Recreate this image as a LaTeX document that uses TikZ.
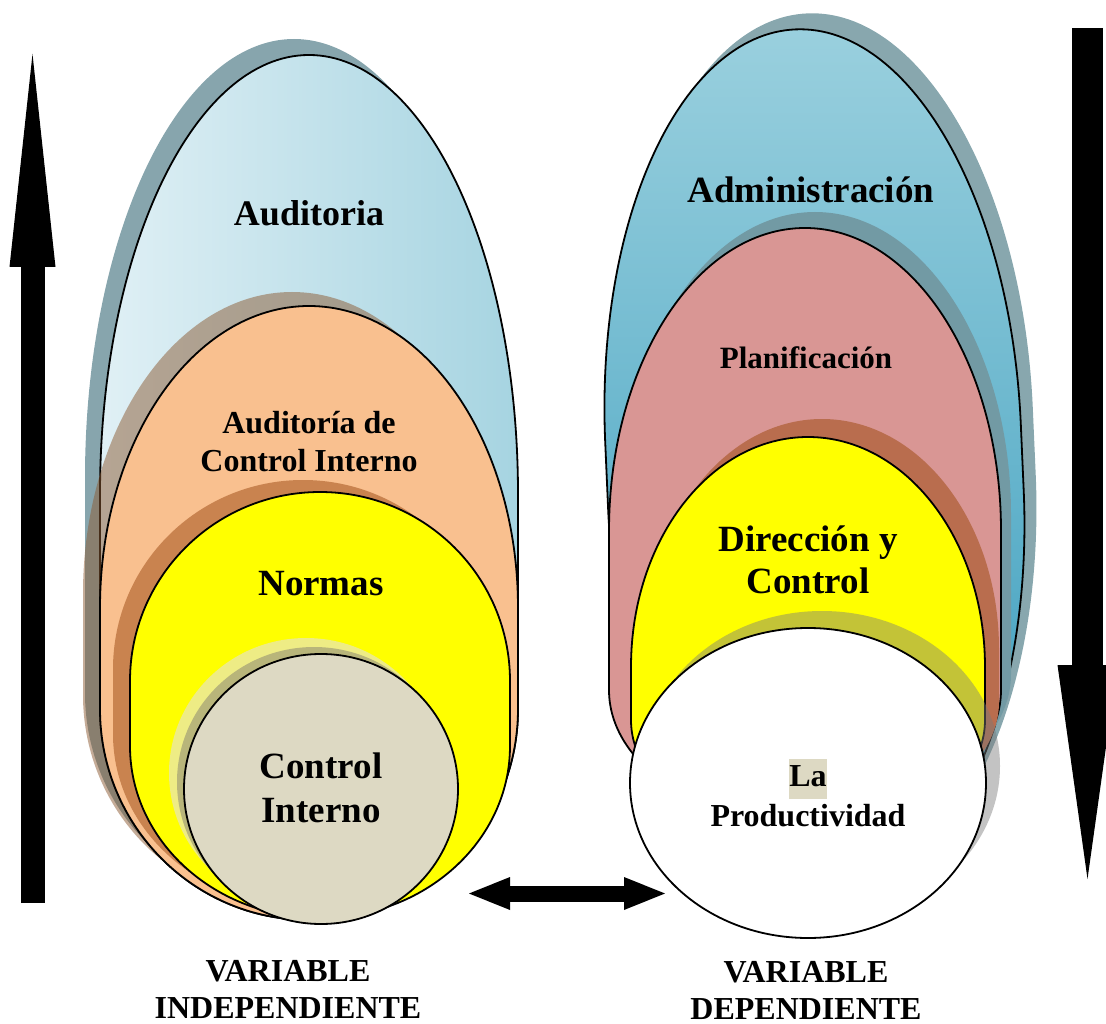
\documentclass[tikz,border=0pt]{standalone}
\usepackage{fontspec}
\setmainfont{Liberation Serif}
\usetikzlibrary{arrows.meta}

\definecolor{audA}{HTML}{E0F0F5}
\definecolor{audB}{HTML}{A6D4E1}
\definecolor{shBlueL}{HTML}{87A5AD}
\definecolor{peach}{HTML}{F9C08F}
\definecolor{peachSh}{HTML}{8C5A32}
\definecolor{yel}{RGB}{255,255,0}
\definecolor{yellowShL}{HTML}{C9834F}
\definecolor{ctrlPale}{HTML}{EEEC85}
\definecolor{ctrlOlive}{HTML}{B8B57A}
\definecolor{ctrlFill}{HTML}{DDD9C3}
\definecolor{admA}{HTML}{9AD0DE}
\definecolor{admB}{HTML}{3399BB}
\definecolor{shBlueR}{HTML}{88A7AE}
\definecolor{pinkFill}{HTML}{D99694}
\definecolor{pinkSh}{HTML}{729AA4}
\definecolor{yellowShR}{HTML}{B96D4E}
\definecolor{whiteSh}{HTML}{7A7A7A}

% oblong shape: upper half-ellipse, straight sides, lower half-ellipse,
% drawn twice (shadow first, then the body)
% #1 shadow opts, #2 body opts, #3 cx, #4 rx, #5 y1, #6 upper ry, #7 y2, #8 lower ry
\newcommand\eggshape[8]{%
  \path[#1] ({#3-#4},#5) arc[start angle=180,end angle=360,x radius=#4,y radius=#6]
    -- ({#3+#4},#7) arc[start angle=0,end angle=180,x radius=#4,y radius=#8] -- cycle;
  \path[#2] ({#3-#4},#5) arc[start angle=180,end angle=360,x radius=#4,y radius=#6]
    -- ({#3+#4},#7) arc[start angle=0,end angle=180,x radius=#4,y radius=#8] -- cycle;}

\tikzset{
  edge/.style={draw=black, line width=1.8pt},
  lblbig/.style={font=\bfseries\fontsize{37}{44}\selectfont, align=center, inner sep=0pt},
  lblsmall/.style={font=\bfseries\fontsize{32}{38}\selectfont, align=center, inner sep=0pt},
  fatarrow/.style={draw=black, line width=#1},
}

\begin{document}
\begin{tikzpicture}[x=1pt,y=-1pt,line join=round]
\useasboundingbox (0,0) rectangle (1106,1024);

% ---------- left group ----------
\eggshape{fill=shBlueL, shift={(-15,-16)}}{left color=audA, right color=audB, edge}
  {309}{209}{494}{439}{709}{211}
\eggshape{fill=peachSh, fill opacity=0.5, shift={(-17,-14)}}{fill=peach, edge}
  {309}{209}{608}{302}{709}{211}
\eggshape{fill=yellowShL, shift={(-17,-12)}}{fill=yel, edge}
  {320}{190}{681}{189}{746}{172}
\fill[ctrlPale] (306,773) ellipse[x radius=137, y radius=135];
\fill[ctrlOlive] (314,782) ellipse[x radius=137, y radius=135];
\path[fill=ctrlFill, edge] (321,789) ellipse[x radius=137, y radius=135];

% ---------- right group ----------
\eggshape{fill=shBlueR, shift={(12,-16)}, rotate around={2.5:(813,433)}}
  {top color=admA, bottom color=admB, edge, rotate around={2.5:(813,433)}}
  {813}{208}{433}{404}{500}{400}
\eggshape{fill=pinkSh, shift={(10,-16)}}{fill=pinkFill, edge}
  {805}{196}{531}{303}{690}{133}
\eggshape{fill=yellowShR, shift={(14,-18)}}{fill=yel, edge}
  {808}{177}{667}{230}{720}{120}
\fill[whiteSh, fill opacity=0.45] (822,766) ellipse[x radius=178, y radius=155];
\path[fill=white, edge] (808,783) ellipse[x radius=178, y radius=155];

% ---------- labels ----------
\node[lblbig, font=\bfseries\fontsize{36}{44}\selectfont] (auditoria) at (309,213) {Auditoria};
\node[lblsmall] (auditoriaci) at (309,442) {Auditoría de\\Control Interno};
\node[lblbig] (normas) at (321,584) {Normas};
\node[lblbig] (ctrlint) at (321,788) {Control\\Interno};
\node[lblsmall, font=\bfseries\fontsize{32}{37}\selectfont] (varind) at (288,989) {VARIABLE\\INDEPENDIENTE};

\node[lblbig] (admin) at (811,190) {Administración};
\node[lblsmall, font=\bfseries\fontsize{31}{37}\selectfont] (plan) at (806,358) {Planificación};
\node[lblbig, font=\bfseries\fontsize{37}{42}\selectfont] (direccion) at (808,560) {Dirección y\\Control};
\node[lblsmall, font=\bfseries\fontsize{32}{40}\selectfont] (produc) at (808,793)
  {{\setlength\fboxsep{0pt}\colorbox{ctrlFill}{\strut La}}\\Productividad};
\node[lblsmall, font=\bfseries\fontsize{32}{37}\selectfont] (vardep) at (806,990) {VARIABLE\\DEPENDIENTE};

% ---------- arrows ----------
\coordinate (upfoot) at (32.5,903);
\coordinate (uptip) at (32.5,54);
\draw[fatarrow=24pt, -{Triangle[length=213pt,width=46pt,line width=0pt]}] (upfoot) -- (uptip);

\coordinate (downtop) at (1087.5,28);
\coordinate (downtip) at (1087.5,879);
\draw[fatarrow=31pt, -{Triangle[length=214pt,width=60pt,line width=0pt]}] (downtop) -- (downtip);

\coordinate (linkL) at (469,893.5);
\coordinate (linkR) at (665,893.5);
\draw[fatarrow=16pt, {Triangle[length=41pt,width=33pt,line width=0pt]}-{Triangle[length=41pt,width=33pt,line width=0pt]}] (linkL) -- (linkR);
\end{tikzpicture}
\end{document}
